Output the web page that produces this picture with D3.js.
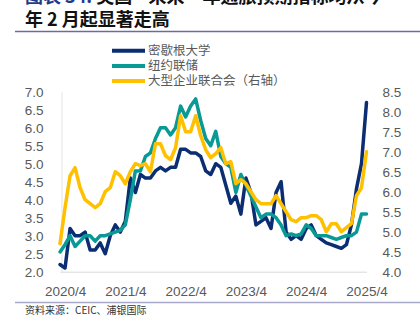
<!DOCTYPE html>
<html>
<head>
<meta charset="utf-8">
<script src="https://cdn.jsdelivr.net/npm/d3@7/dist/d3.min.js"></script>
<style>
  html, body { margin: 0; padding: 0; background: #fff; }
  svg { display: block; }
</style>
</head>
<body>
<svg id="chart" width="420" height="328"></svg>
<script>
// ---- data (monthly, 2020/3 .. 2025/4) ----
const months = [];
for (let y = 2020, m = 3; y < 2025 || (y === 2025 && m <= 4); ) {
  months.push(y + "/" + m);
  m++; if (m > 12) { m = 1; y++; }
}
const michigan = [2.2,2.1,3.2,3.0,3.0,3.1,2.6,2.6,2.8,2.5,3.0,3.3,3.1,3.4,4.6,4.2,4.7,4.6,4.6,4.8,
  4.9,4.8,4.9,4.9,5.4,5.4,5.3,5.3,5.2,4.8,4.7,5.0,4.9,4.4,3.9,4.1,3.6,4.6,4.2,3.3,
  3.4,3.5,3.2,4.2,4.5,3.1,2.9,3.0,2.9,3.2,3.3,3.0,2.9,2.8,2.75,2.7,2.65,2.75,3.3,4.3,
  5.0,6.7];
const nyfed = [2.55,2.75,3.0,2.7,2.85,3.0,3.0,2.85,3.0,3.0,3.05,3.1,3.15,3.3,4.0,4.8,4.8,5.2,5.3,5.7,
  6.0,6.0,5.8,6.0,6.6,6.3,6.6,6.8,6.2,5.7,5.5,5.9,5.2,5.0,4.9,4.2,4.7,4.4,4.1,3.8,
  3.5,3.6,3.6,3.5,3.3,3.0,3.05,3.0,3.05,3.3,3.2,3.0,3.0,3.0,2.95,2.9,2.95,3.0,3.0,3.1,
  3.6,3.6];
const confBoard = [4.7,5.6,6.4,6.6,6.1,5.8,5.7,5.6,5.7,6.0,6.1,6.5,6.4,6.2,6.5,6.7,6.65,6.7,6.5,7.2,
  7.2,6.9,6.8,7.1,7.9,7.5,7.5,7.9,7.4,7.05,6.85,6.95,7.1,6.7,6.75,6.2,6.3,6.2,6.0,5.8,
  5.7,5.7,5.7,5.9,5.7,5.5,5.3,5.25,5.35,5.35,5.4,5.4,5.3,5.0,5.2,5.2,5.0,5.1,5.2,5.9,
  6.1,7.0];
const xTickLabels = ["2020/4","2021/4","2022/4","2023/4","2024/4","2025/4"];
const leftTicks = [2.0,2.5,3.0,3.5,4.0,4.5,5.0,5.5,6.0,6.5,7.0];
const rightTicks = [4.0,4.5,5.0,5.5,6.0,6.5,7.0,7.5,8.0,8.5];
const seriesNames = ["密歇根大学","纽约联储","大型企业联合会（右轴）"];
const seriesColors = ["#0b2d72","#0a9a96","#ffc000"];

// ---- layout ----
const svg = d3.select("#chart");
const plot = { left: 60, right: 366.5, top: 91.7, bottom: 271.7 };
const gray = "#595959";
const axisFont = "'Liberation Sans', Arial, sans-serif";
const cjkFont = "'Noto Sans CJK SC', 'Noto Sans', sans-serif";

const x = d3.scalePoint().domain(months).range([plot.left, plot.right]);
const yL = d3.scaleLinear().domain([2, 7]).range([plot.bottom, plot.top]);
const yR = d3.scaleLinear().domain([4, 8.5]).range([plot.bottom, plot.top]);

// ---- title ----
const t1 = svg.append("text").attr("x", 25).attr("y", 3)
  .attr("font-family", cjkFont).attr("font-size", 18).attr("font-weight", "bold");
t1.append("tspan").attr("fill", "#1f3c88").text("图表 34: ");
t1.append("tspan").attr("fill", "#111").text("美国—未来一年通胀预期指标均从今");
svg.append("text").attr("x", 25).attr("y", 26)
  .attr("font-family", cjkFont).attr("font-size", 18).attr("font-weight", "bold")
  .attr("fill", "#111").text("年 2 月起显著走高");
svg.append("line").attr("x1", 15).attr("x2", 420).attr("y1", 31.5).attr("y2", 31.5)
  .attr("stroke", "#6b6b9e").attr("stroke-width", 1.3);

// ---- axes ----
const gx = svg.append("g").attr("transform", `translate(0,${plot.bottom})`)
  .call(d3.axisBottom(x).tickValues(xTickLabels).tickSize(0).tickSizeOuter(0).tickPadding(15));
gx.select(".domain").attr("stroke", "#d9d9d9").attr("stroke-width", 1);
gx.selectAll("text").attr("fill", gray).attr("font-family", axisFont).attr("font-size", 13.5);

const gl = svg.append("g").attr("transform", `translate(${plot.left + 1.5},0)`)
  .call(d3.axisLeft(yL).tickValues(leftTicks).tickFormat(d3.format(".1f")).tickSize(0).tickSizeOuter(0).tickPadding(18));
gl.select(".domain").attr("stroke", "#e3e3e3").attr("stroke-width", 1);
gl.selectAll("text").attr("fill", gray).attr("font-family", axisFont).attr("font-size", 13.5);

const gr = svg.append("g").attr("transform", `translate(${plot.right},0)`)
  .call(d3.axisRight(yR).tickValues(rightTicks).tickFormat(d3.format(".1f")).tickSize(0).tickSizeOuter(0).tickPadding(16));
gr.select(".domain").remove();
gr.selectAll("text").attr("fill", gray).attr("font-family", axisFont).attr("font-size", 13.5);

// ---- lines ----
const lineL = d3.line().x((d, i) => x(months[i])).y(d => yL(d));
const lineR = d3.line().x((d, i) => x(months[i])).y(d => yR(d));
[[michigan, lineL, 0], [nyfed, lineL, 1], [confBoard, lineR, 2]].forEach(([data, gen, k]) => {
  svg.append("path").datum(data).attr("d", gen)
    .attr("fill", "none").attr("stroke", seriesColors[k]).attr("stroke-width", 3.5)
    .attr("stroke-linejoin", "round").attr("stroke-linecap", "round");
});

// ---- legend ----
const lg = svg.append("g").attr("transform", "translate(112,50.7)");
seriesNames.forEach((name, k) => {
  const row = lg.append("g").attr("transform", `translate(0,${k * 15.2})`);
  row.append("line").attr("x1", 0).attr("x2", 33).attr("y1", 0).attr("y2", 0)
    .attr("stroke", seriesColors[k]).attr("stroke-width", 4);
  row.append("text").attr("x", 36).attr("y", 0).attr("dy", "0.35em")
    .attr("font-family", cjkFont).attr("font-size", 12.5).attr("fill", gray).text(name);
});

// ---- footer ----
svg.append("line").attr("x1", 15).attr("x2", 420).attr("y1", 302.5).attr("y2", 302.5)
  .attr("stroke", "#a9a9cc").attr("stroke-width", 1.3);
svg.append("text").attr("x", 25).attr("y", 314)
  .attr("font-family", cjkFont).attr("font-size", 10).attr("fill", "#333")
  .text("资料来源：CEIC、浦银国际");
</script>
</body>
</html>
